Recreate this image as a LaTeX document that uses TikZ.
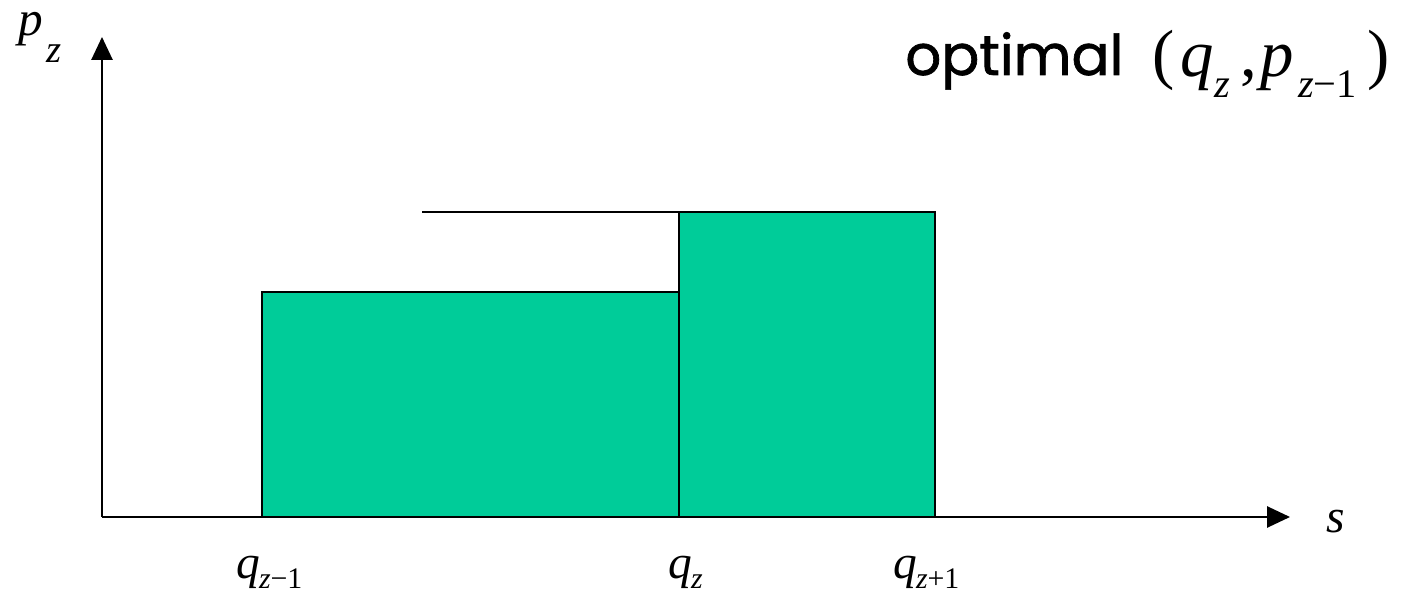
\documentclass[tikz,border=0pt]{standalone}
\usepackage{fontspec}
\setmainfont{Liberation Serif}
\newfontfamily\optfont{Poppins}[FakeBold=1.2]
\usetikzlibrary{arrows.meta}
\definecolor{barfill}{HTML}{00CC99}
\tikzset{
  lbl/.style={anchor=base west,inner sep=0pt,outer sep=0pt,font=\fontsize{27}{30}\selectfont\itshape},
  sublbl/.style={anchor=base west,inner sep=0pt,outer sep=0pt,font=\fontsize{17}{20}\selectfont},
  biglbl/.style={anchor=base west,inner sep=0pt,outer sep=0pt,font=\fontsize{38}{44}\selectfont},
  bigsub/.style={anchor=base west,inner sep=0pt,outer sep=0pt,font=\fontsize{23}{27}\selectfont},
  axis/.style={line width=1.1pt,-{Triangle[length=13pt,width=12pt]}},
  bar/.style={fill=barfill,draw=black,line width=1pt}
}
\begin{document}
\begin{tikzpicture}[x=0.02cm,y=-0.02cm]
\useasboundingbox (0,0) rectangle (1410,594);
% bars
\draw[bar] (262,517) rectangle (679,292);
\draw[bar] (679,517) rectangle (935,212);
\coordinate (tl) at (422,212);
\coordinate (tr) at (679,212);
\draw[line width=0.7pt] (tl) -- (tr);
% axes
\coordinate (O) at (102,517);
\coordinate (ytip) at (102,37);
\coordinate (xtip) at (1290,517);
\draw[axis] (O) -- (ytip);
\draw[axis] (O) -- (xtip);
% axis labels
\node[lbl,text height=0.5em,font=\fontsize{28}{30}\selectfont\itshape] (pz) at (18,36) {p};
\node[sublbl,font=\fontsize{22}{24}\selectfont\itshape] (pzs) at (46,63) {z};
\node[lbl] (s) at (1326,532) {s};
\node[lbl] (q1) at (236,578) {q};
\node[sublbl] (q1s) at (259,588) {\textit{z}−1};
\node[lbl] (q2) at (668,578) {q};
\node[sublbl] (q2s) at (691,588) {\textit{z}};
\node[lbl] (q3) at (893,578) {q};
\node[sublbl] (q3s) at (916,588) {\textit{z}+1};
% title
\node[anchor=base west,inner sep=0pt,font=\optfont\fontsize{32}{38}\selectfont] (opt) at (905,75) {optimal};
\node[biglbl] (lp) at (1152,77) {(};
\node[biglbl,font=\fontsize{38}{44}\selectfont\itshape] (tq) at (1180,77) {q};
\node[bigsub] (tqs) at (1214,98) {\textit{z}};
\node[biglbl] (cm) at (1240,77) {,};
\node[biglbl,font=\fontsize{38}{44}\selectfont\itshape] (tp) at (1260,77) {p};
\node[bigsub] (tps) at (1298,98) {\textit{z}−1};
\node[biglbl] (rp) at (1367,77) {)};
\end{tikzpicture}
\end{document}
